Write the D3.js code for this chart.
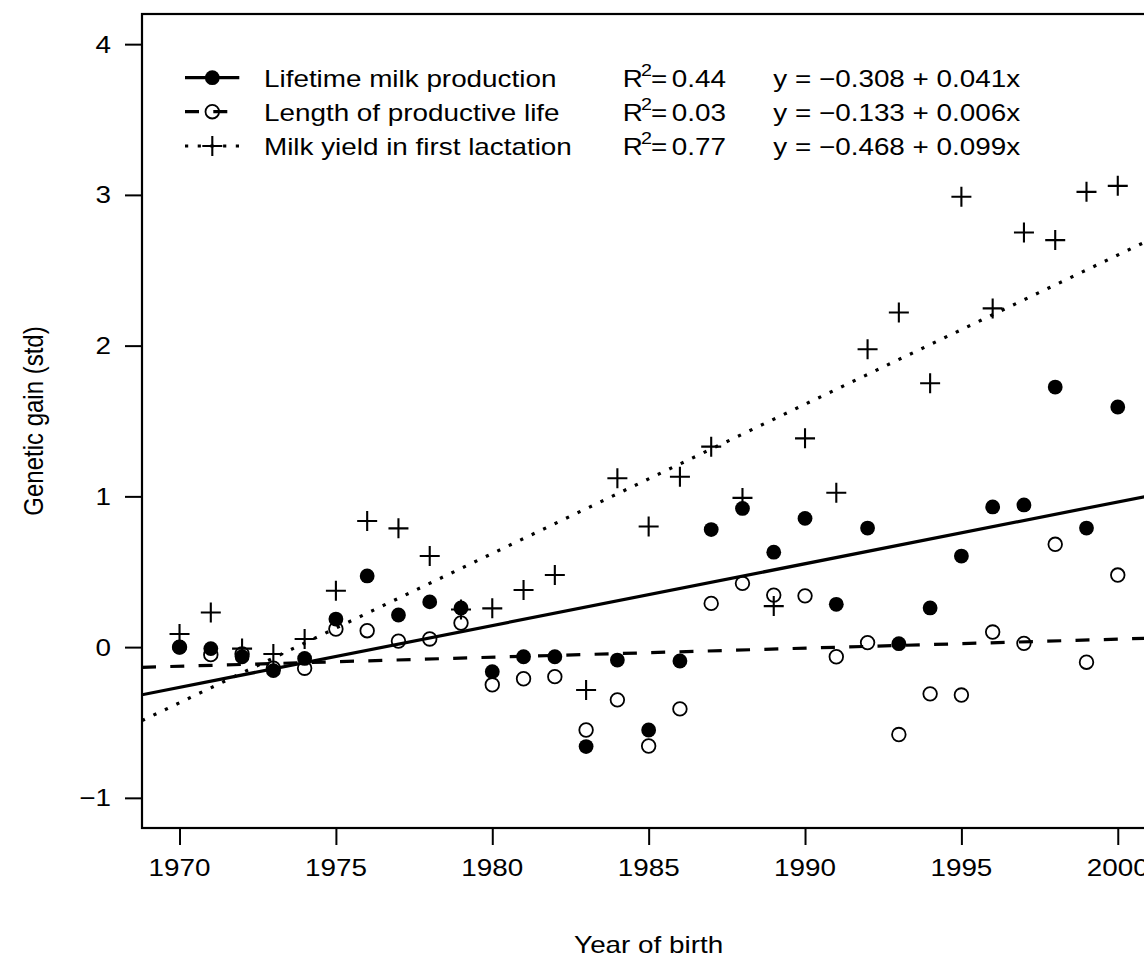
<!DOCTYPE html>
<html><head><meta charset="utf-8">
<script src="https://cdn.jsdelivr.net/npm/d3@7"></script>
<style>body{margin:0;background:#fff}svg{display:block}text{font-family:"Liberation Sans",Arial,sans-serif;fill:#000}</style>
</head><body>
<script>
const years = d3.range(1970, 2001);
const lifetimeMilk = [0.00,-0.01,-0.064,-0.156,-0.075,0.186,0.472,0.213,0.30,0.26,-0.163,-0.064,-0.064,-0.66,-0.086,-0.55,-0.092,0.78,0.92,0.63,0.854,0.284,0.79,0.023,0.26,0.604,0.93,0.943,1.725,0.79,1.593];
const productiveLife = [0.00,-0.05,-0.045,-0.14,-0.14,0.12,0.109,0.04,0.054,0.16,-0.25,-0.21,-0.196,-0.55,-0.35,-0.656,-0.41,0.29,0.423,0.345,0.34,-0.064,0.03,-0.58,-0.31,-0.318,0.10,0.025,0.682,-0.10,0.478];
const firstLactation = [0.087,0.23,-0.01,-0.046,0.054,0.374,0.837,0.788,0.604,0.25,0.257,0.379,0.478,-0.285,1.12,0.80,1.13,1.33,0.99,0.272,1.385,1.024,1.976,2.22,1.75,2.988,2.247,2.75,2.70,3.02,3.06];
const seriesNames = ["Lifetime milk production","Length of productive life","Milk yield in first lactation"];
const r2Labels = ["0.44","0.03","0.77"];
const intercepts = [-0.308,-0.133,-0.468];
const slopes = [0.041,0.006,0.099];
const eqLabels = ["y = \u22120.308 + 0.041x","y = \u22120.133 + 0.006x","y = \u22120.468 + 0.099x"];
const xTicks = [1970,1975,1980,1985,1990,1995,2000];
const yTicks = [-1,0,1,2,3,4];

const W = 1144, H = 958;
const L = 142, T = 14, B = 828, R = 1155.3;
const SX = 1.16, FS = 24;
const x = d3.scaleLinear().domain([1968.8, 2001.2]).range([L, R]);
const y = d3.scaleLinear().domain([-1.2, 4.2]).range([B, T]);

const svg = d3.select("body").append("svg").attr("width", W).attr("height", H);
svg.append("defs").append("clipPath").attr("id","clip").append("rect")
  .attr("x", L).attr("y", T).attr("width", R-L).attr("height", B-T);

function label(g, tx, ty, str, opts={}) {
  return g.append("text")
    .attr("transform", `translate(${tx},${ty}) scale(${SX},1)` + (opts.rotate ? ` rotate(${opts.rotate})` : ""))
    .attr("text-anchor", opts.anchor || "start")
    .attr("font-size", opts.size || FS)
    .text(str);
}

// regression lines
const styles = [{dash:null},{dash:"14,14.3"},{dash:"3.2,9.5"}];
const lineG = svg.append("g").attr("clip-path","url(#clip)");
intercepts.forEach((a,i)=>{
  const b = slopes[i];
  const x0 = x.domain()[0], x1 = x.domain()[1];
  lineG.append("line")
    .attr("x1", x(x0)).attr("y1", y(a + b*(x0-1969)))
    .attr("x2", x(x1)).attr("y2", y(a + b*(x1-1969)))
    .attr("stroke","#000").attr("stroke-width",3.2)
    .attr("stroke-dasharray", styles[i].dash);
});

// points
const pG = svg.append("g");
pG.selectAll(".open").data(productiveLife).join("circle")
  .attr("cx",(d,i)=>x(years[i])).attr("cy",d=>y(d)).attr("r",6.8)
  .attr("fill","none").attr("stroke","#000").attr("stroke-width",1.8);
pG.selectAll(".filled").data(lifetimeMilk).join("circle")
  .attr("cx",(d,i)=>x(years[i])).attr("cy",d=>y(d)).attr("r",7.4).attr("fill","#000");
const plus = (g, cx, cy, s) => g.append("path")
  .attr("d",`M${cx-s},${cy}H${cx+s}M${cx},${cy-s}V${cy+s}`)
  .attr("stroke","#000").attr("stroke-width",2.1).attr("fill","none");
firstLactation.forEach((d,i)=>plus(pG, x(years[i]), y(d), 10));

// box
svg.append("rect").attr("x",L).attr("y",T).attr("width",R-L).attr("height",B-T)
  .attr("fill","none").attr("stroke","#000").attr("stroke-width",2.2);

// axes (ticks via d3 axes, labels stretched to match reference glyph width)
const xAxis = d3.axisBottom(x).tickValues(xTicks).tickSize(17).tickFormat("");
const gx = svg.append("g").attr("transform",`translate(0,${B})`).call(xAxis);
gx.select(".domain").remove();
gx.selectAll("line").attr("stroke-width",2);
xTicks.forEach(t=>label(svg, x(t), 876, d3.format("d")(t), {anchor:"middle"}));

const yAxis = d3.axisLeft(y).tickValues(yTicks).tickSize(17).tickFormat("");
const gy = svg.append("g").attr("transform",`translate(${L},0)`).call(yAxis);
gy.select(".domain").remove();
gy.selectAll("line").attr("stroke-width",2);
yTicks.forEach(t=>label(svg, 111, y(t)+8.6, t<0?"\u2212"+Math.abs(t):String(t), {anchor:"end"}));

// axis titles
label(svg, (L+R)/2, 953, "Year of birth", {anchor:"middle"});
label(svg, 43, (T+B)/2, "Genetic gain (std)", {anchor:"middle", rotate:-90});

// legend
const rowY = [77.7, 111.7, 146];
const lg = svg.append("g");
rowY.forEach((ry,i)=>{
  lg.append("line").attr("x1",185).attr("x2",239.3).attr("y1",ry).attr("y2",ry)
    .attr("stroke","#000").attr("stroke-width",3.2).attr("stroke-dasharray",styles[i].dash);
  if(i===0) lg.append("circle").attr("cx",212.3).attr("cy",ry).attr("r",7.4).attr("fill","#000");
  if(i===1) lg.append("circle").attr("cx",212.3).attr("cy",ry).attr("r",6.8).attr("fill","none").attr("stroke","#000").attr("stroke-width",1.8);
  if(i===2) plus(lg,212.3,ry,10);
  const by = ry + 8.8;
  label(lg, 264, by, seriesNames[i]);
  label(lg, 622.7, by, "R");
  label(lg, 641, by-11, "2", {size:17});
  label(lg, 651, by, "=");
  label(lg, 671.7, by, r2Labels[i]);
  label(lg, 773.3, by, eqLabels[i]);
});
</script>
</body></html>
